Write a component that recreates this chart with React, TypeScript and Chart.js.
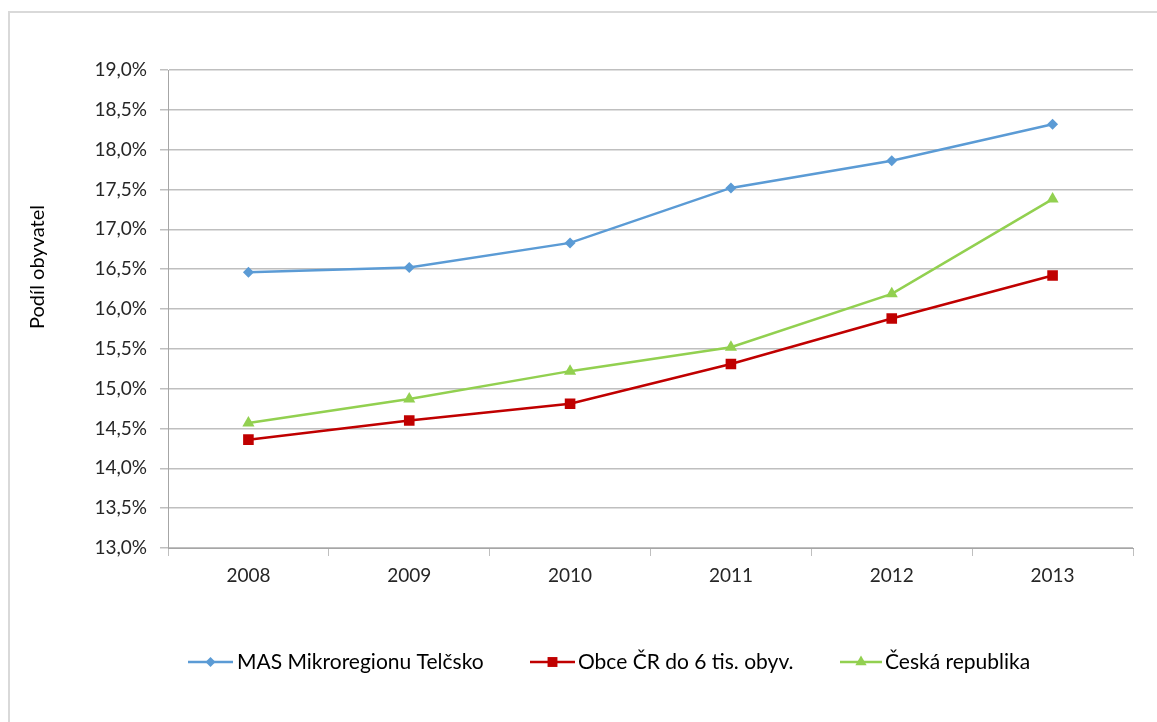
import React, { useEffect, useRef } from "react";
import { Chart, registerables } from "chart.js";

Chart.register(...registerables);

const years = ["2008", "2009", "2010", "2011", "2012", "2013"];
const masTelcsko = [16.46, 16.52, 16.83, 17.52, 17.86, 18.32];
const obceCR = [14.36, 14.6, 14.81, 15.31, 15.88, 16.42];
const ceskaRepublika = [14.57, 14.87, 15.22, 15.52, 16.19, 17.38];
const seriesNames = ["MAS Mikroregionu Telčsko", "Obce ČR do 6 tis. obyv.", "Česká republika"];
const yTitle = "Podíl obyvatel";

const FONT = "Lato, 'Open Sans', sans-serif";
const colors = ["#5B9BD5", "#C00000", "#92D050"];
const styles = ["rectRot", "rect", "triangle"];
const radii = [5.5, 7.5, 7];

export default function App() {
  const ref = useRef<HTMLCanvasElement>(null);
  useEffect(() => {
    const canvas = ref.current!;

    function drawMarker(ctx: CanvasRenderingContext2D, style: string, r: number, x: number, y: number, c: string) {
      ctx.save();
      ctx.fillStyle = c;
      ctx.beginPath();
      if (style === "rectRot") {
        ctx.moveTo(x, y - r);
        ctx.lineTo(x + r, y);
        ctx.lineTo(x, y + r);
        ctx.lineTo(x - r, y);
      } else if (style === "rect") {
        const h = r * Math.SQRT1_2;
        ctx.rect(x - h, y - h, 2 * h, 2 * h);
      } else {
        ctx.moveTo(x, y - r);
        ctx.lineTo(x + r * 0.866, y + r * 0.5);
        ctx.lineTo(x - r * 0.866, y + r * 0.5);
      }
      ctx.closePath();
      ctx.fill();
      ctx.restore();
    }

    const framePlugin = {
      id: "frame",
      beforeDraw(chart: any) {
        const ctx = chart.ctx;
        ctx.save();
        ctx.fillStyle = "#ffffff";
        ctx.fillRect(0, 0, chart.width, chart.height);
        ctx.strokeStyle = "#D9D9D9";
        ctx.lineWidth = 2;
        ctx.strokeRect(9, 12, chart.width + 20, chart.height + 20);
        ctx.restore();
      },
      afterDraw(chart: any) {
        const ctx = chart.ctx;
        ctx.save();
        ctx.translate(38, 267);
        ctx.rotate(-Math.PI / 2);
        ctx.fillStyle = "#000000";
        ctx.font = `20px ${FONT}`;
        ctx.textAlign = "center";
        ctx.textBaseline = "middle";
        ctx.fillText(yTitle, 0, 0);
        ctx.restore();

        const items = [
          { x0: 188, x1: 233, text: 237 },
          { x0: 530, x1: 575, text: 578 },
          { x0: 840, x1: 882, text: 885 },
        ];
        const y = 662;
        items.forEach((it, i) => {
          ctx.save();
          ctx.strokeStyle = colors[i];
          ctx.lineWidth = 2.5;
          ctx.beginPath();
          ctx.moveTo(it.x0, y);
          ctx.lineTo(it.x1, y);
          ctx.stroke();
          ctx.restore();
          drawMarker(ctx, styles[i], radii[i] - 0.5, (it.x0 + it.x1) / 2, y, colors[i]);
          ctx.save();
          ctx.fillStyle = "#000000";
          ctx.font = `21px ${FONT}`;
          ctx.textAlign = "left";
          ctx.textBaseline = "middle";
          ctx.fillText(seriesNames[i], it.text, y);
          ctx.restore();
        });
      },
    };

    const mk = (i: number, data: number[]) => ({
      label: seriesNames[i],
      data,
      borderColor: colors[i],
      backgroundColor: colors[i],
      borderWidth: 2.5,
      pointStyle: styles[i],
      pointRadius: radii[i],
      pointBorderWidth: 0,
      pointBackgroundColor: colors[i],
      tension: 0,
    });

    const chart = new Chart(canvas, {
      type: "line",
      data: {
        labels: years,
        datasets: [mk(0, masTelcsko), mk(1, obceCR), mk(2, ceskaRepublika)],
      },
      options: {
        animation: false,
        responsive: false,
        layout: { padding: { top: 70, right: 24, left: 0, bottom: 0 } },
        plugins: { legend: { display: false }, tooltip: { enabled: false } },
        scales: {
          x: {
            offset: true,
            afterFit: (s: any) => {
              s.height = 174;
            },
            grid: {
              offset: true,
              drawOnChartArea: false,
              drawTicks: true,
              tickLength: 8,
              color: "#BFBFBF",
            },
            border: { color: "#A6A6A6", width: 1 },
            ticks: { color: "#262626", font: { size: 19, family: FONT }, padding: 8 },
          },
          y: {
            min: 13,
            max: 19,
            afterFit: (s: any) => {
              s.width = 168;
            },
            grid: { color: "#BFBFBF", lineWidth: 1.5, tickLength: 8 },
            border: { color: "#A6A6A6", width: 1 },
            ticks: {
              stepSize: 0.5,
              color: "#262626",
              font: { size: 19, family: FONT },
              padding: 13,
              callback: (v: any) => Number(v).toFixed(1).replace(".", ",") + "%",
            },
          },
        },
      },
      plugins: [framePlugin],
    } as any);
    return () => chart.destroy();
  }, []);

  return (
    <div style={{ position: "absolute", left: 0, top: 0, width: 1157, height: 722 }}>
      <canvas ref={ref} width={1157} height={722} />
    </div>
  );
}
